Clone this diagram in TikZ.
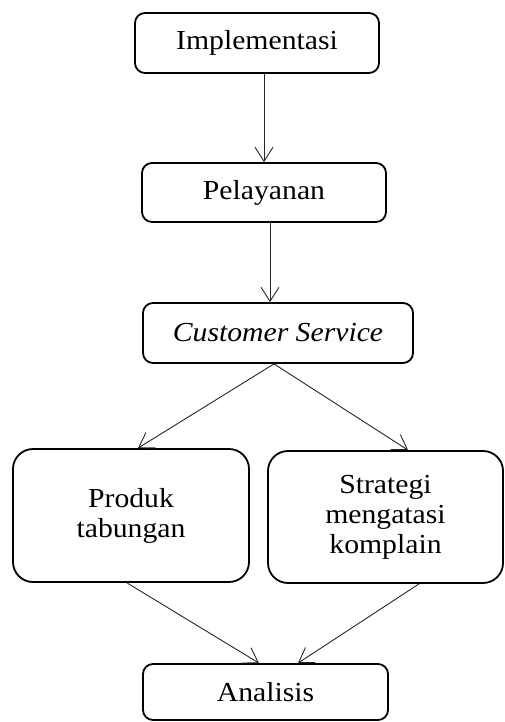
\documentclass[tikz,border=0pt]{standalone}
\usepackage{fontspec}
\setmainfont{Liberation Serif}[FakeStretch=1.08]
\usetikzlibrary{arrows.meta}
\begin{document}
\begin{tikzpicture}[x=1pt,y=1pt,
  box/.style={draw=black, line width=1.8pt, rounded corners=10pt, inner sep=0pt,
    align=center, font=\fontsize{27.5}{30}\selectfont},
  bigbox/.style={box, rounded corners=20pt},
  arr/.style={draw=black!85, line width=0.9pt, -{Straight Barb[length=14pt,width=18pt,line width=0.9pt]}}]
  \useasboundingbox (0,0) rectangle (504,-722);

  % process boxes
  \node[box, minimum width=244pt, minimum height=60pt] (impl) at (257,-43) {Implementasi};
  \node[box, minimum width=244pt, minimum height=59pt] (pel) at (264,-192.5) {Pelayanan};
  \node[box, minimum width=270pt, minimum height=60pt] (cs) at (278,-333) {\itshape Customer Service};
  \node[bigbox, minimum width=236pt, minimum height=133pt] (prod) at (131,-515.5) {Produk\\tabungan};
  \node[bigbox, minimum width=235pt, minimum height=132pt] (strat) at (385.5,-517) {Strategi\\mengatasi\\komplain};
  \node[box, minimum width=245pt, minimum height=56pt] (anal) at (265.5,-692) {Analisis};

  % connectors
  \draw[arr] ([xshift=7pt]impl.south) -- (pel.north);
  \draw[arr] ([xshift=6pt]pel.south) -- ([xshift=-8pt]cs.north);
  \draw[arr] ([xshift=-4pt]cs.south) -- ([xshift=7pt]prod.north);
  \draw[arr] ([xshift=-4pt]cs.south) -- ([xshift=22.5pt]strat.north);
  \draw[arr] ([xshift=-4pt]prod.south) -- ([xshift=-6.5pt]anal.north);
  \draw[arr] ([xshift=33.5pt]strat.south) -- ([xshift=32.5pt]anal.north);
\end{tikzpicture}
\end{document}
